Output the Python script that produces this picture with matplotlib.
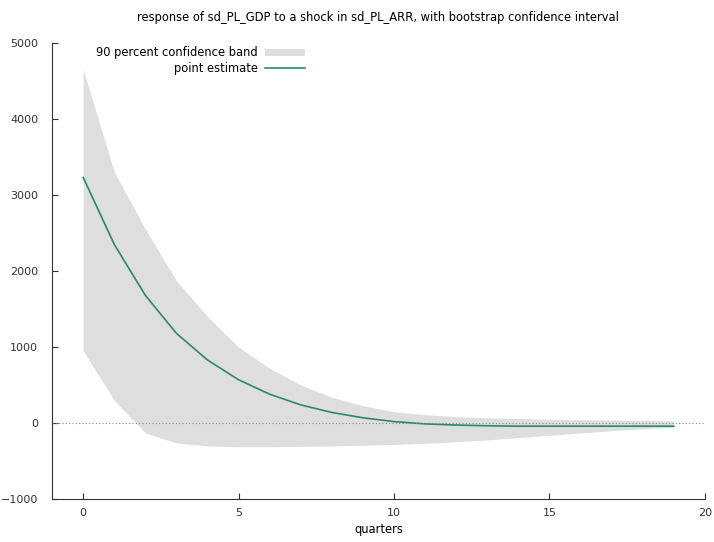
import matplotlib
matplotlib.use("Agg")
import matplotlib.pyplot as plt

quarters = list(range(20))
point_estimate = [3230, 2350, 1680, 1180, 830, 570, 380, 240, 140, 70,
                  20, -10, -25, -35, -40, -40, -40, -40, -40, -40]
band_upper = [4650, 3300, 2550, 1870, 1400, 1000, 720, 500, 340, 230,
              150, 110, 85, 70, 60, 50, 45, 40, 35, 30]
band_lower = [950, 300, -130, -260, -300, -310, -310, -305, -300, -290,
              -280, -265, -245, -220, -190, -160, -130, -100, -75, -55]

title = "response of sd_PL_GDP to a shock in sd_PL_ARR, with bootstrap confidence interval"

fig = plt.figure(figsize=(7.14, 5.42), dpi=100)
ax = fig.add_axes([0.073, 0.079, 0.914, 0.842])

ax.fill_between(quarters, band_lower, band_upper, color="#dedede", linewidth=0,
                label="90 percent confidence band")
ax.plot(quarters, point_estimate, color="#2a8a63", linewidth=1.2, label="point estimate")
ax.axhline(0, color="#888888", linestyle=(0, (1, 2)), linewidth=0.8)

ax.set_xlim(-1, 20)
ax.set_ylim(-1000, 5000)
ax.set_xticks([0, 5, 10, 15, 20])
ax.set_yticks([-1000, 0, 1000, 2000, 3000, 4000, 5000])
ax.tick_params(direction="in", length=4, labelsize=8, colors="#333333")
ax.tick_params(axis="x", pad=6)
ax.tick_params(axis="y", pad=10)
for side in ["top", "right"]:
    ax.spines[side].set_visible(False)
for side in ["left", "bottom"]:
    ax.spines[side].set_color("#333333")

ax.set_xlabel("quarters", fontsize=8.3, labelpad=4)
ax.set_title(title, fontsize=8.3, pad=16)

ax.legend(loc="upper right", bbox_to_anchor=(0.40, 1.01), frameon=False,
          markerfirst=False, fontsize=8.3, handlelength=3.5, handleheight=0.6,
          labelspacing=0.25, borderpad=0.2, handletextpad=0.6)

fig.savefig("out.png", dpi=100, facecolor="white")
